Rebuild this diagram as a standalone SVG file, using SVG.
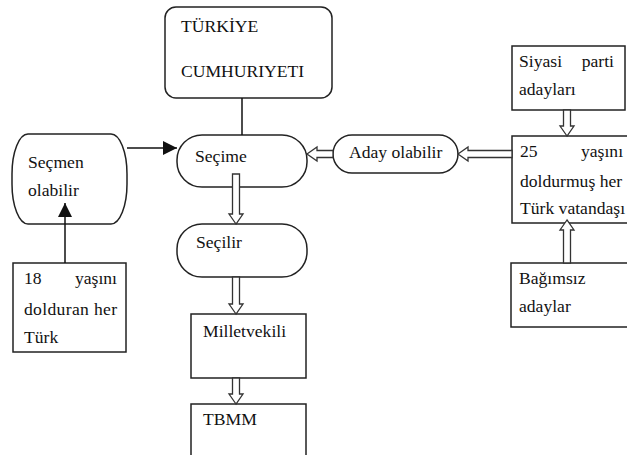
<svg xmlns="http://www.w3.org/2000/svg" width="627" height="455" viewBox="0 0 627 455">
  <defs>
    <style>
      .box { fill: #fff; stroke: #222; stroke-width: 1.5; }
      .line { stroke: #111; stroke-width: 1.5; fill: none; }
      .hollow { fill: #fff; stroke: #333; stroke-width: 1.3; }
    </style>
    <marker id="solid" markerWidth="14" markerHeight="14" refX="14" refY="7" orient="auto" markerUnits="userSpaceOnUse">
      <path d="M0,0 L14,7 L0,14 Z" fill="#111"/>
    </marker>
  </defs>

  <rect width="627" height="455" fill="#fff"/>

  <!-- nodes -->
  <g id="nodes" font-family="Liberation Serif, Tinos, DejaVu Serif, serif" font-size="17.6" fill="#111">
    <g id="turkiye">
      <rect class="box" x="165" y="7" width="167" height="91" rx="11"/>
      <text x="181" y="32">T&#220;RK&#304;YE</text>
      <text x="181" y="77">CUMHURIYETI</text>
    </g>

    <g id="secmen">
      <rect class="box" x="12" y="134" width="115" height="90" rx="16" ry="40"/>
      <text x="28" y="168">Se&#231;men</text>
      <text x="28" y="196">olabilir</text>
    </g>

    <g id="secime">
      <rect class="box" x="177" y="135" width="130" height="52" rx="25"/>
      <text x="195" y="162">Se&#231;ime</text>
    </g>

    <g id="aday">
      <rect class="box" x="333" y="135" width="125" height="38" rx="19"/>
      <text x="349" y="158">Aday olabilir</text>
    </g>

    <g id="siyasi">
      <rect class="box" x="512" y="46" width="113" height="64"/>
      <text x="519" y="67">Siyasi</text>
      <text x="614" y="67" text-anchor="end">parti</text>
      <text x="519" y="95">adaylar&#305;</text>
    </g>

    <g id="yas25">
      <rect class="box" x="512" y="136" width="130" height="87"/>
      <text x="520" y="157">25</text>
      <text x="581" y="157">ya&#351;&#305;n&#305;</text>
      <text x="520" y="187">doldurmu&#351; her</text>
      <text x="520" y="214">T&#252;rk vatanda&#351;&#305;</text>
    </g>

    <g id="bagimsiz">
      <rect class="box" x="511" y="263" width="130" height="64"/>
      <text x="519" y="284">Ba&#287;&#305;ms&#305;z</text>
      <text x="519" y="312">adaylar</text>
    </g>

    <g id="yas18">
      <rect class="box" x="13" y="263" width="113" height="89"/>
      <text x="24" y="284">18</text>
      <text x="117" y="284" text-anchor="end">ya&#351;&#305;n&#305;</text>
      <text x="24" y="315" textLength="93" lengthAdjust="spacing">dolduran her</text>
      <text x="24" y="343">T&#252;rk</text>
    </g>

    <g id="secilir">
      <rect class="box" x="177" y="224" width="130" height="53" rx="25"/>
      <text x="196" y="248">Se&#231;ilir</text>
    </g>

    <g id="milletvekili">
      <rect class="box" x="191" y="314" width="115" height="64"/>
      <text x="203" y="337">Milletvekili</text>
    </g>

    <g id="tbmm">
      <rect class="box" x="191" y="404" width="115" height="70"/>
      <text x="203" y="425">TBMM</text>
    </g>
  </g>

  <!-- connectors -->
  <g id="connectors">
    <line class="line" x1="242" y1="98" x2="242" y2="135"/>
    <line class="line" x1="127" y1="148" x2="177" y2="148" marker-end="url(#solid)"/>
    <line class="line" x1="65" y1="263" x2="65" y2="203" marker-end="url(#solid)"/>

    <!-- hollow block arrows -->
    <path class="hollow" d="M307,154 L317,147 L317,150.5 L333,150.5 L333,157.5 L317,157.5 L317,161 Z"/>
    <path class="hollow" d="M458,154 L468,147 L468,150.5 L512,150.5 L512,157.5 L468,157.5 L468,161 Z"/>
    <path class="hollow" d="M236,224 L229,214 L232.5,214 L232.5,174 L239.5,174 L239.5,214 L243,214 Z"/>
    <path class="hollow" d="M236,314 L229,304 L232.5,304 L232.5,277 L239.5,277 L239.5,304 L243,304 Z"/>
    <path class="hollow" d="M236,404 L229,394 L232.5,394 L232.5,378 L239.5,378 L239.5,394 L243,394 Z"/>
    <path class="hollow" d="M567,136 L560,126 L563.5,126 L563.5,110 L570.5,110 L570.5,126 L574,126 Z"/>
    <path class="hollow" d="M567,220 L560,230 L563.5,230 L563.5,263 L570.5,263 L570.5,230 L574,230 Z"/>
  </g>
</svg>
